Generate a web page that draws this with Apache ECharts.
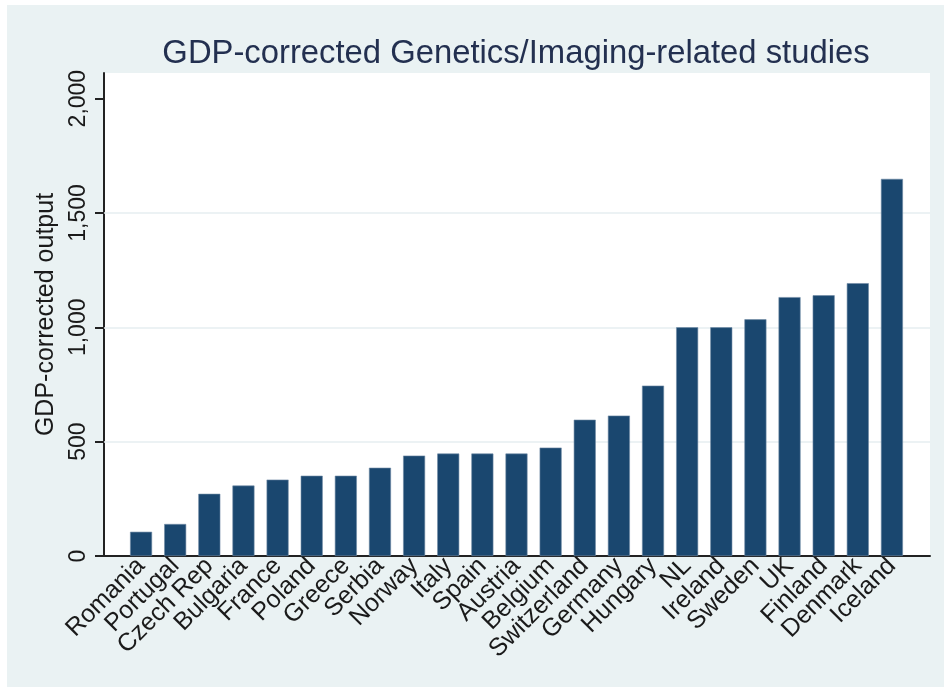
<!DOCTYPE html>
<html>
<head>
<meta charset="utf-8">
<script src="https://cdn.jsdelivr.net/npm/echarts@6/dist/echarts.min.js"></script>
<style>html,body{margin:0;padding:0;background:#fff}#c{width:944px;height:687px}</style>
</head>
<body>
<div id="c"></div>
<script>
const countries = ["Romania","Portugal","Czech Rep","Bulgaria","France","Poland","Greece","Serbia","Norway","Italy","Spain","Austria","Belgium","Switzerland","Germany","Hungary","NL","Ireland","Sweden","UK","Finland","Denmark","Iceland"];
const output = [106,140,272,308,334,351,351,386,439,448,448,448,474,596,614,745,1000,1000,1035,1132,1140,1193,1649];
const yTicks = [0,500,1000,1500,2000];
const gridLines = [500,1000,1500];
const yMax = 2112;

const chart = echarts.init(document.getElementById('c'));
const FONT = 'Liberation Sans, Arial, sans-serif';
chart.setOption({
  backgroundColor: '#eaf2f3',
  animation: false,
  graphic: [
    {type:'rect', left:0, top:0, shape:{width:944, height:5}, style:{fill:'#fff'}},
    {type:'rect', left:0, top:0, shape:{width:7, height:687}, style:{fill:'#fff'}}
  ],
  title: {
    text: 'GDP-corrected Genetics/Imaging-related studies',
    left: 511, top: 32, textAlign: 'center',
    textStyle: {fontFamily: FONT, fontSize: 32.8, fontWeight: 'normal', color: '#233050'}
  },
  grid: [
    {left:104, right:14, top:73, bottom:131, show:true, backgroundColor:'#fff', borderWidth:0},
    {left:124, right:35, top:73, bottom:131}
  ],
  xAxis: [
    {type:'value', gridIndex:0, min:0, max:1, axisLabel:{show:false}, axisTick:{show:false}, splitLine:{show:false},
     axisLine:{show:true, lineStyle:{color:'#222', width:2}}},
    {type:'category', gridIndex:1, data: countries,
     axisLine:{show:false}, axisTick:{show:false},
     axisLabel:{interval:0, rotate:45, margin:6, fontFamily:FONT, fontSize:25, color:'#1a1a1a'}}
  ],
  yAxis: [
    {type:'value', gridIndex:0, min:0, max:yMax, interval:500,
     name:'GDP-corrected output', nameLocation:'middle', nameGap:44, nameRotate:90,
     nameTextStyle:{fontFamily:FONT, fontSize:25, color:'#1a1a1a'},
     axisLine:{show:true, lineStyle:{color:'#222', width:2}},
     axisTick:{show:true, length:9, customValues:yTicks, lineStyle:{color:'#222', width:2}},
     axisLabel:{rotate:90, margin:14, customValues:yTicks, fontFamily:FONT, fontSize:23, color:'#1a1a1a',
       formatter: v => v.toLocaleString('en-US')},
     splitLine:{show:false}},
    {type:'value', gridIndex:1, min:0, max:yMax, show:false, splitLine:{show:false}}
  ],
  series: [
    {type:'line', xAxisIndex:0, yAxisIndex:0, data:[], silent:true, z:1,
     markLine:{silent:true, symbol:'none', label:{show:false}, z:1,
       lineStyle:{color:'#e6eef0', width:1.5, type:'solid'},
       data: gridLines.map(v => ({yAxis:v}))}},
    {type:'bar', xAxisIndex:1, yAxisIndex:1, data: output, barWidth:22,
     itemStyle:{color:'#1a476f', borderColor:'#6f8aa5', borderWidth:0.6}, z:5}
  ]
});
</script>
</body>
</html>
